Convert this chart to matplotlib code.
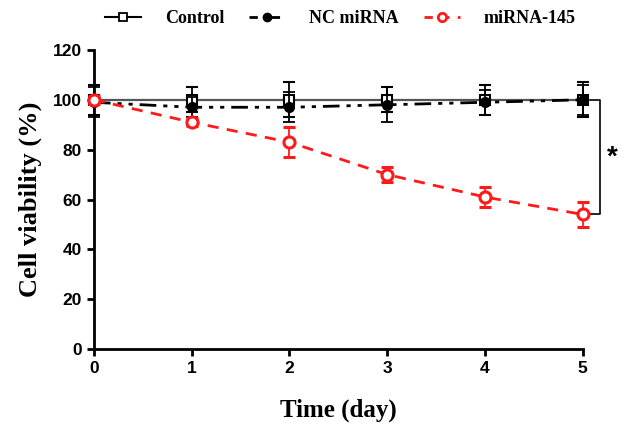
import matplotlib
matplotlib.use("Agg")
import matplotlib.pyplot as plt
from matplotlib.lines import Line2D

days = [0, 1, 2, 3, 4, 5]
control = [100, 100, 100, 100, 100, 100]
control_err = [6, 5, 7, 5, 6, 7]
nc = [99, 97, 97, 98, 99, 100]
nc_err = [6, 4, 6, 7, 5, 6]
mir = [100, 91, 83, 70, 61, 54]
mir_err = [1.5, 1.5, 6, 3, 4, 5]

xticks = [0, 1, 2, 3, 4, 5]
yticks = [0, 20, 40, 60, 80, 100, 120]
labels = ["Control", "NC miRNA", "miRNA-145"]

serif = "Liberation Serif"
sans = "Liberation Sans"
red = "#ff1a1a"
nc_dash = [6, 2.5, 1.5, 2.5, 1.5, 2.5]

fig = plt.figure(figsize=(6.3, 4.38), dpi=100)
ax = fig.add_axes([0.149, 0.203, 0.776, 0.683])

ax.errorbar(days, control, yerr=control_err, color="#555555", ecolor="black",
            elinewidth=1.3, capsize=4.5, capthick=1.3, lw=1.6, ls="-",
            marker="s", ms=7, mfc="white", mec="black", mew=1.5,
            clip_on=False, zorder=3)
ax.errorbar(days, nc, yerr=nc_err, color="black", ecolor="black",
            elinewidth=1.3, capsize=4.5, capthick=1.3, lw=2.0, dashes=nc_dash,
            marker="o", ms=7, mfc="black", mec="black",
            clip_on=False, zorder=4)
ax.errorbar(days, mir, yerr=mir_err, color=red, ecolor=red,
            elinewidth=1.3, capsize=4.5, capthick=1.3, lw=2.0, dashes=[4, 3],
            marker="o", ms=8, mfc="white", mec=red, mew=2.2,
            clip_on=False, zorder=5)

ax.set_xlim(0, 5)
ax.set_ylim(0, 120)
ax.set_xticks(xticks)
ax.set_yticks(yticks)
for s in ["top", "right"]:
    ax.spines[s].set_visible(False)
for s in ["left", "bottom"]:
    ax.spines[s].set_linewidth(2.0)
ax.tick_params(width=2.0, length=5, labelsize=12.5)
for lab in ax.get_xticklabels() + ax.get_yticklabels():
    lab.set_fontfamily(sans)
    lab.set_fontweight("bold")

ax.set_xlabel("Time (day)", fontfamily=serif, fontweight="bold", fontsize=18, labelpad=16)
ax.set_ylabel("Cell viability (%)", fontfamily=serif, fontweight="bold", fontsize=19, labelpad=8)

bx = 5.18
ax.plot([5.07, bx, bx, 5.07], [control[-1], control[-1], mir[-1], mir[-1]],
        color="black", lw=1.2, clip_on=False)
ax.text(bx + 0.12, (control[-1] + mir[-1]) / 2, "*", fontsize=20, fontfamily=sans,
        fontweight="bold", ha="center", va="center")

handles = [
    Line2D([], [], color="black", lw=1.5, marker="s", ms=6, mfc="white", mec="black", mew=1.3),
    Line2D([], [], color="black", lw=2.0, dashes=[3, 2, 1, 2], marker="o", ms=6, mfc="black"),
    Line2D([], [], color=red, lw=2.0, dashes=[3, 3], marker="o", ms=6, mfc="white", mec=red, mew=2.0),
]
fig.legend(handles, labels, loc="center", bbox_to_anchor=(0.54, 0.958), ncol=3,
           frameon=False, prop={"family": serif, "weight": "bold", "size": 13},
           handlelength=2.0, handletextpad=1.3, columnspacing=1.4, borderaxespad=0)

fig.savefig("out.png", dpi=100)
